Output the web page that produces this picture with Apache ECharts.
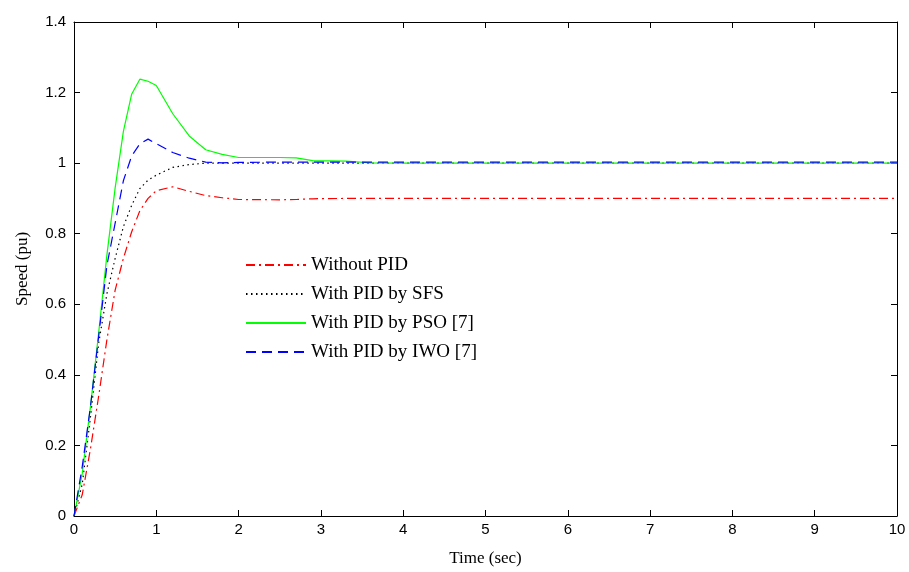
<!DOCTYPE html>
<html>
<head>
<meta charset="utf-8">
<script src="https://cdn.jsdelivr.net/npm/echarts@6/dist/echarts.min.js"></script>
<style>html,body{margin:0;padding:0;background:#fff}#c{width:909px;height:572px}</style>
</head>
<body>
<div id="c"></div>
<script>
const time =        [0, 0.1, 0.2, 0.3, 0.4, 0.5, 0.6, 0.7, 0.8, 0.9, 1.0, 1.2, 1.4, 1.6, 1.8, 2.0, 2.5, 2.7, 2.9, 3.3, 3.6, 4, 5, 6, 7, 8, 9, 10];
const withoutPID =  [0, 0.06, 0.19, 0.34, 0.50, 0.64, 0.73, 0.805, 0.865, 0.90, 0.922, 0.933, 0.92, 0.908, 0.902, 0.897, 0.896, 0.897, 0.899, 0.90, 0.90, 0.90, 0.90, 0.90, 0.90, 0.90, 0.90, 0.90];
const pidSFS =      [0, 0.09, 0.28, 0.49, 0.63, 0.73, 0.82, 0.88, 0.928, 0.952, 0.966, 0.988, 0.996, 1.0, 1.0, 1.0, 1.0, 1.0, 1.0, 1.0, 1.0, 1.0, 1.0, 1.0, 1.0, 1.0, 1.0, 1.0];
const pidPSO =      [0, 0.12, 0.31, 0.52, 0.74, 0.93, 1.09, 1.195, 1.238, 1.232, 1.22, 1.14, 1.077, 1.038, 1.025, 1.016, 1.016, 1.015, 1.007, 1.006, 1.001, 1.0, 1.0, 1.0, 1.0, 1.0, 1.0, 1.0];
const pidIWO =      [0, 0.14, 0.31, 0.51, 0.71, 0.83, 0.95, 1.02, 1.055, 1.068, 1.055, 1.03, 1.014, 1.003, 1.001, 1.002, 1.003, 1.003, 1.003, 1.003, 1.003, 1.003, 1.003, 1.003, 1.003, 1.003, 1.003, 1.003];
const seriesNames = ['Without PID', 'With PID by SFS', 'With PID by PSO [7]', 'With PID by IWO [7]'];
const xTicks = [0, 10, 1];
const yTicks = [0, 1.4, 0.2];

const pair = arr => time.map((t, i) => [t, arr[i]]);
const tickFont = {fontFamily: '"Liberation Sans Narrow", "Liberation Sans", Arial, sans-serif', fontSize: 15, color: '#000'};
const serif = '"Liberation Serif", "Times New Roman", serif';
const axisCommon = {
  axisLine: {show: true, onZero: false, lineStyle: {color: '#000', width: 1}},
  axisTick: {show: true, inside: true, length: 6, lineStyle: {color: '#000'}},
  splitLine: {show: false}
};
const chart = echarts.init(document.getElementById('c'), null, {renderer: 'canvas'});
const mk = (name, arr, color, type) => ({
  name, type: 'line', data: pair(arr), symbol: 'none', smooth: false,
  lineStyle: {color, width: 1.2, type}, itemStyle: {color}
});
chart.setOption({
  backgroundColor: '#fff',
  animation: false,
  grid: {left: 74, right: 12, top: 22, bottom: 53, containLabel: false},
  legend: {
    orient: 'vertical', left: 240, top: 250,
    itemWidth: 60, itemHeight: 10, itemGap: 9,
    itemStyle: {opacity: 0},
    textStyle: {fontFamily: serif, fontSize: 19, color: '#000', lineHeight: 20},
    data: seriesNames
  },
  xAxis: [
    Object.assign({type: 'value', min: xTicks[0], max: xTicks[1], interval: xTicks[2], position: 'bottom',
      name: 'Time (sec)', nameLocation: 'middle', nameGap: 34,
      nameTextStyle: {fontFamily: serif, fontSize: 17, color: '#000'},
      axisLabel: Object.assign({margin: 6}, tickFont)}, axisCommon),
    Object.assign({type: 'value', min: xTicks[0], max: xTicks[1], interval: xTicks[2], position: 'top',
      axisLabel: {show: false}}, axisCommon)
  ],
  yAxis: [
    Object.assign({type: 'value', min: yTicks[0], max: yTicks[1], interval: yTicks[2], position: 'left',
      name: 'Speed (pu)', nameLocation: 'middle', nameGap: 43,
      nameTextStyle: {fontFamily: serif, fontSize: 17, color: '#000'},
      axisLabel: Object.assign({margin: 8, formatter: v => String(Math.round(v * 10) / 10)}, tickFont)}, axisCommon),
    Object.assign({type: 'value', min: yTicks[0], max: yTicks[1], interval: yTicks[2], position: 'right',
      axisLabel: {show: false}}, axisCommon)
  ],
  series: [
    mk(seriesNames[0], withoutPID, '#ff0000', [9, 4, 2, 4]),
    mk(seriesNames[1], pidSFS, '#000000', [1.5, 3.5]),
    mk(seriesNames[2], pidPSO, '#00ff00', 'solid'),
    mk(seriesNames[3], pidIWO, '#0000ff', [10, 6])
  ]
});
</script>
</body>
</html>
